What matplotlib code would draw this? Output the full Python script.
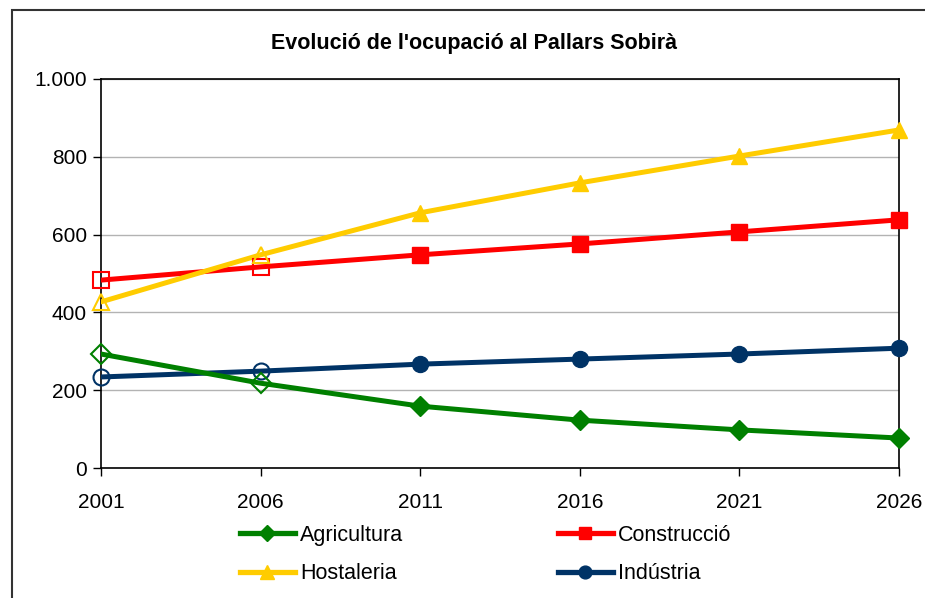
import numpy as np
import matplotlib.pyplot as plt
from matplotlib.lines import Line2D
from matplotlib.patches import Rectangle

plt.rcParams['font.family'] = ['Liberation Sans', 'DejaVu Sans']

anys = ['2001', '2006', '2011', '2016', '2021', '2026']
agricultura = [293, 218, 159, 123, 98, 77]
construccio = [483, 517, 548, 576, 607, 638]
hostaleria = [427, 548, 656, 733, 802, 869]
industria = [234, 249, 267, 280, 293, 308]

series = [
    ('Agricultura', agricultura, '#008000', 'D', 10),
    ('Construcció', construccio, '#FF0000', 's', 11),
    ('Hostaleria', hostaleria, '#FFCC00', '^', 12),
    ('Indústria', industria, '#003366', 'o', 11.5),
]
# ordre de dibuix (el groc per sobre del vermell, etc.)
ordre = [3, 0, 1, 2]

fig = plt.figure(figsize=(9.25, 5.98), dpi=100)
ax = fig.add_axes([101 / 925, 1 - 468 / 598, 798 / 925, 389 / 598])

x = np.arange(len(anys))
for i in ordre:
    nom, vals, col, mk, ms = series[i]
    ax.plot(x, vals, color=col, lw=3.6, zorder=3)
    # els dos primers punts buits
    ax.plot(x[:2], vals[:2], ls='none', marker=mk, ms=ms, mfc='none',
            mec=col, mew=1.5, zorder=4, clip_on=False)
    ax.plot(x[2:], vals[2:], ls='none', marker=mk, ms=ms, mfc=col,
            mec=col, zorder=4, clip_on=False)

ax.set_xlim(0, len(anys) - 1)
ax.set_ylim(0, 1000)
ax.set_xticks(x)
ax.set_xticklabels(anys)
ax.set_yticks([0, 200, 400, 600, 800, 1000])
ax.set_yticklabels(['0', '200', '400', '600', '800', '1.000'])
ax.tick_params(axis='both', labelsize=15, length=6, width=1, direction='out', color='black')
ax.tick_params(axis='x', pad=12)
ax.tick_params(axis='y', pad=4)
ax.yaxis.grid(True, color='#b3b3b3', lw=1)
ax.set_axisbelow(True)
for s in ax.spines.values():
    s.set_color('black')
    s.set_linewidth(1.2)

fig.text(0.512, 1 - 43 / 598, "Evolució de l'ocupació al Pallars Sobirà",
         ha='center', va='center', fontsize=15.5, fontweight='bold')

handles = []
for nom, vals, col, mk, ms in series:
    handles.append(Line2D([], [], color=col, lw=3.8, marker=mk, ms=ms * 0.8,
                          mfc=col, mec=col, label=nom))
# la llegenda s'omple per files: Agricultura, Construcció / Hostaleria, Indústria
handles = [handles[0], handles[2], handles[1], handles[3]]
fig.legend(handles=handles, loc='upper left', ncol=2, frameon=False,
           bbox_to_anchor=(231 / 925, 1 - 516 / 598), fontsize=15.5,
           handlelength=2.55, handletextpad=0.25, columnspacing=7.2,
           labelspacing=0.82, borderaxespad=0)

# marc exterior del gràfic
fig.patches.append(Rectangle((12 / 925, -0.05), 1.2, 1 - 10 / 598 + 0.05,
                             transform=fig.transFigure, fill=False,
                             ec='#333333', lw=1.5))

fig.savefig('out.png', dpi=100)
